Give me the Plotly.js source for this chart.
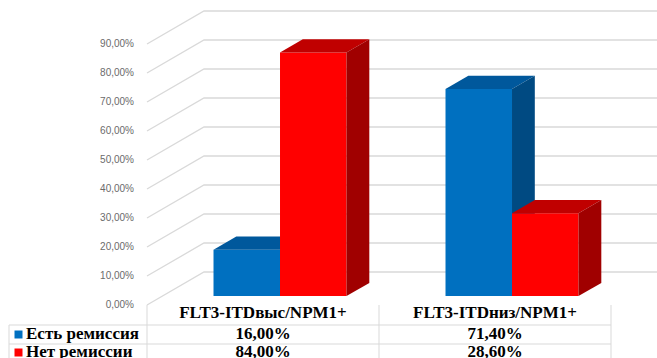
<!DOCTYPE html>
<html>
<head>
<meta charset="utf-8">
<script src="https://cdn.plot.ly/plotly-3.0.1.min.js"></script>
<style>html,body{margin:0;padding:0;background:#fff;}#chart{width:657px;height:358px;}</style>
</head>
<body>
<div id="chart"></div>
<script>
// ---- data ----
const categories = ['FLT3-ITDвыс/NPM1+', 'FLT3-ITDниз/NPM1+'];
const seriesNames = ['Есть ремиссия', 'Нет ремиссии'];
const remission = [16.00, 71.40];
const noRemission = [84.00, 28.60];
const tickValues = [0, 10, 20, 30, 40, 50, 60, 70, 80, 90];

// ---- layout constants (pixel geometry of the oblique 3D view) ----
const W = 657, H = 358;
const PX_PER_UNIT = 232, PX_PER_PCT = 2.9;
const CX0 = 263, Y0 = 305;
const xRange = [-CX0 / PX_PER_UNIT, (W - CX0) / PX_PER_UNIT];
const yRange = [-(H - Y0) / PX_PER_PCT, Y0 / PX_PER_PCT];
const px2x = p => (p - CX0) / PX_PER_UNIT;
const py2y = p => (Y0 - p) / PX_PER_PCT;
const DX = 57 / PX_PER_UNIT, DY = 33 / PX_PER_PCT;   // full depth of the wall
const F0 = 0.27, F1 = 0.67;                          // bar front/back depth fraction
const BW = 66.5 / PX_PER_UNIT;                        // bar width
const PAIR = 0.007;                                   // pair offset from category centre
const bdx = (F1 - F0) * DX, bdy = (F1 - F0) * DY;
const baseY = F0 * DY;

const fmt = v => v.toFixed(2).replace('.', ',') + '%';

const colors = {
  front: ['#0070C0', '#FF0000'],
  top: ['#00589C', '#C00000'],
  side: ['#004A82', '#A00000']
};

// gridlines (left wall + back wall)
const gx = [], gy = [];
tickValues.forEach(p => {
  gx.push(-0.5, -0.5 + DX, 1.5 + DX + 0.3, null);
  gy.push(p, p + DY, p + DY, null);
});

const traces = [];
traces.push({type: 'scatter', mode: 'lines', x: gx, y: gy, xaxis: 'x', yaxis: 'y',
  line: {color: '#D9D9D9', width: 1.3}, hoverinfo: 'skip', showlegend: false});

// y tick labels
traces.push({type: 'scatter', mode: 'text', x: tickValues.map(() => -0.5 - 13 / PX_PER_UNIT),
  y: tickValues, text: tickValues.map(fmt), textposition: 'middle left',
  textfont: {family: 'Liberation Sans, Arial, sans-serif', size: 10, color: '#6b6b6b'},
  xaxis: 'x', yaxis: 'y', hoverinfo: 'skip', showlegend: false, cliponaxis: false});

function addSeries(vals, s, xa, ya) {
  const xs = categories.map((c, i) => i + PAIR + F0 * DX);
  traces.push({type: 'bar', x: xs, y: vals, base: vals.map(() => baseY),
    width: vals.map(() => BW), offset: vals.map(() => (s === 0 ? -BW : 0)),
    marker: {color: colors.front[s], line: {width: 0}}, name: seriesNames[s],
    xaxis: xa, yaxis: ya, showlegend: false, hoverinfo: 'skip'});
  vals.forEach((v, i) => {
    const xl = xs[i] + (s === 0 ? -BW : 0), xr = xl + BW;
    const yt = baseY + v, yb = baseY;
    traces.push({type: 'scatter', mode: 'lines', fill: 'toself', fillcolor: colors.top[s],
      x: [xl, xr, xr + bdx, xl + bdx, xl], y: [yt, yt, yt + bdy, yt + bdy, yt],
      line: {width: 0, color: colors.top[s]}, xaxis: xa, yaxis: ya, hoverinfo: 'skip', showlegend: false});
    traces.push({type: 'scatter', mode: 'lines', fill: 'toself', fillcolor: colors.side[s],
      x: [xr, xr, xr + bdx, xr + bdx, xr], y: [yb, yt, yt + bdy, yb + bdy, yb],
      line: {width: 0, color: colors.side[s]}, xaxis: xa, yaxis: ya, hoverinfo: 'skip', showlegend: false});
  });
}
addSeries(remission, 0, 'x2', 'y2');
addSeries(noRemission, 1, 'x3', 'y3');

// data table
const tFont = {family: 'Liberation Serif, Times New Roman, serif', size: 17, color: '#000', weight: 'bold'};
const rowHeader = py2y(314), row1 = py2y(334.5), row2 = py2y(352.5);
traces.push({type: 'scatter', mode: 'text', x: categories.map((c, i) => i), y: categories.map(() => rowHeader),
  text: categories, textposition: 'middle center', textfont: tFont, xaxis: 'x3', yaxis: 'y3',
  hoverinfo: 'skip', showlegend: false, cliponaxis: false});
traces.push({type: 'scatter', mode: 'text', x: remission.map((v, i) => i), y: remission.map(() => row1),
  text: remission.map(fmt), textposition: 'middle center', textfont: tFont, xaxis: 'x3', yaxis: 'y3',
  hoverinfo: 'skip', showlegend: false, cliponaxis: false});
traces.push({type: 'scatter', mode: 'text', x: noRemission.map((v, i) => i), y: noRemission.map(() => row2),
  text: noRemission.map(fmt), textposition: 'middle center', textfont: tFont, xaxis: 'x3', yaxis: 'y3',
  hoverinfo: 'skip', showlegend: false, cliponaxis: false});
traces.push({type: 'scatter', mode: 'markers', x: [px2x(18.5), px2x(18.5)], y: [row1, row2],
  marker: {symbol: 'square', size: 8, color: colors.front}, xaxis: 'x3', yaxis: 'y3',
  hoverinfo: 'skip', showlegend: false, cliponaxis: false});
traces.push({type: 'scatter', mode: 'text', x: [px2x(26), px2x(26)], y: [row1, row2],
  text: seriesNames, textposition: 'middle right', textfont: tFont, xaxis: 'x3', yaxis: 'y3',
  hoverinfo: 'skip', showlegend: false, cliponaxis: false});

const lineStyle = {color: '#D9D9D9', width: 1};
const hLineY = [py2y(325), py2y(344)];
const shapes = [];
hLineY.forEach(y => shapes.push({type: 'line', xref: 'x', yref: 'y', x0: px2x(9), x1: 1.5, y0: y, y1: y, line: lineStyle, layer: 'below'}));
[-0.5, 0.5, 1.5].forEach(x => shapes.push({type: 'line', xref: 'x', yref: 'y', x0: x, x1: x, y0: 0, y1: yRange[0] - 2, line: lineStyle, layer: 'below'}));
shapes.push({type: 'line', xref: 'x', yref: 'y', x0: px2x(9), x1: px2x(9), y0: hLineY[0], y1: yRange[0] - 2, line: lineStyle, layer: 'below'});

const ax = {range: xRange, visible: false, fixedrange: true};
const ay = {range: yRange, visible: false, fixedrange: true};
const layout = {
  width: W, height: H, margin: {l: 0, r: 0, t: 0, b: 0},
  paper_bgcolor: '#fff', plot_bgcolor: 'rgba(0,0,0,0)',
  barmode: 'overlay', showlegend: false,
  xaxis: Object.assign({}, ax), yaxis: Object.assign({}, ay),
  xaxis2: Object.assign({overlaying: 'x'}, ax), yaxis2: Object.assign({overlaying: 'y'}, ay),
  xaxis3: Object.assign({overlaying: 'x'}, ax), yaxis3: Object.assign({overlaying: 'y'}, ay),
  shapes: shapes
};
Plotly.newPlot('chart', traces, layout, {staticPlot: true, displayModeBar: false});
</script>
</body>
</html>
